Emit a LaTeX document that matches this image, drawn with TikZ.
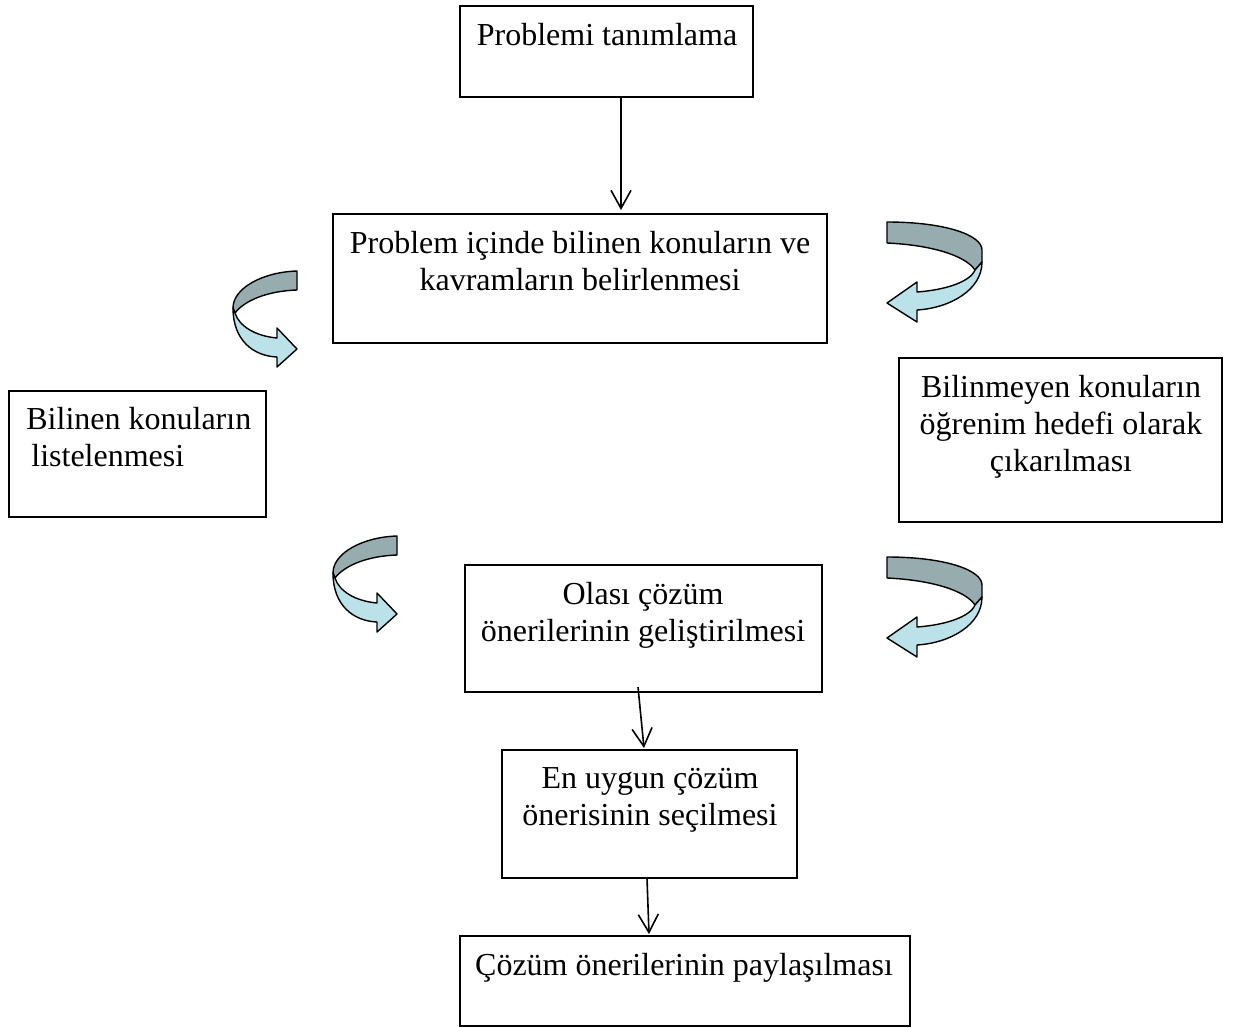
\documentclass[tikz,border=0pt]{standalone}
\usepackage{fontspec}
\setmainfont{Liberation Serif}
\usetikzlibrary{arrows.meta,calc,fit}
\definecolor{curlback}{RGB}{150,172,175}
\definecolor{curlfront}{RGB}{187,226,232}

\begin{document}
\begin{tikzpicture}[
    x=0.5pt, y=-0.5pt,
    box/.style={draw, line width=1pt, inner sep=0pt},
    txt/.style={align=center, inner sep=0pt, anchor=north, font=\fontsize{16}{18.5}\selectfont},
    arr/.style={-{Straight Barb[length=9pt, width=10pt]}, line width=0.8pt},
    back/.style={draw, line width=0.7pt, line join=round, fill=curlback},
    front/.style={draw, line width=0.7pt, line join=round, fill=curlfront},
    leftcurl/.pic={
        \path[back] (64,1) .. controls (30,2) and (0,18) .. (0,38) -- (2,43)
            .. controls (12,30) and (35,21) .. (64,20) -- cycle;
        \path[front] (0,38) .. controls (0,70) and (20,86) .. (44,87) -- (44,97)
            -- (64,79) -- (44,58) -- (44,68) .. controls (22,66) and (6,56) .. (2,43) -- cycle;
    },
    rightcurl/.pic={
        \path[back] (0,0) .. controls (58,0) and (95,13) .. (95,28) -- (95,40) -- (88,48)
            .. controls (78,33) and (43,23) .. (0,21) -- cycle;
        \path[front] (95,40) .. controls (95,68) and (63,86) .. (30,88) -- (30,100)
            -- (0,81) -- (30,60) -- (30,70) .. controls (58,68) and (83,60) .. (88,48) -- cycle;
    }
]
\useasboundingbox (0,0) rectangle (1233,1028);

\node[box, fit={(460,6) (753,97)}] (tanim) {};
\node[box, fit={(333,214) (827,343)}] (belirle) {};
\node[box, fit={(9,391) (266,517)}] (bilinen) {};
\node[box, fit={(899,358) (1222,522)}] (bilinmeyen) {};
\node[box, fit={(465,565) (822,692)}] (olasi) {};
\node[box, fit={(502,750) (797,878)}] (secim) {};
\node[box, fit={(460,936) (910,1026)}] (paylas) {};

\node[txt] (tanimtxt) at (607,23) {Problemi tanımlama};
\node[txt] (belirletxt) at (580,231) {Problem içinde bilinen konuların ve\\kavramların belirlenmesi};
\node[txt, anchor=north west, align=left] (bilinentxt) at (26,407) {Bilinen konuların\\\hspace*{2.5pt}listelenmesi};
\node[txt] (bilinmeyentxt) at (1061,375) {Bilinmeyen konuların\\öğrenim hedefi olarak\\çıkarılması};
\node[txt] (olasitxt) at (643,582) {Olası çözüm\\önerilerinin geliştirilmesi};
\node[txt] (secimtxt) at (650,767) {En uygun çözüm\\önerisinin seçilmesi};
\node[txt] (paylastxt) at (684,953) {Çözüm önerilerinin paylaşılması};

\draw[arr] ($(tanim.south)+(14.5,0)$) -- ($(belirle.north)+(41,-3)$);
\draw[arr] ($(olasi.south)+(-5.5,-6)$) -- ($(secim.north)+(-5.5,-1)$);
\draw[arr] ($(secim.south)+(-2.5,-1)$) -- ($(paylas.north)+(-36,-1)$);

\pic at (233,270) {leftcurl};
\pic at (333,535) {leftcurl};
\pic at (887,222) {rightcurl};
\pic at (887,557) {rightcurl};
\end{tikzpicture}
\end{document}
